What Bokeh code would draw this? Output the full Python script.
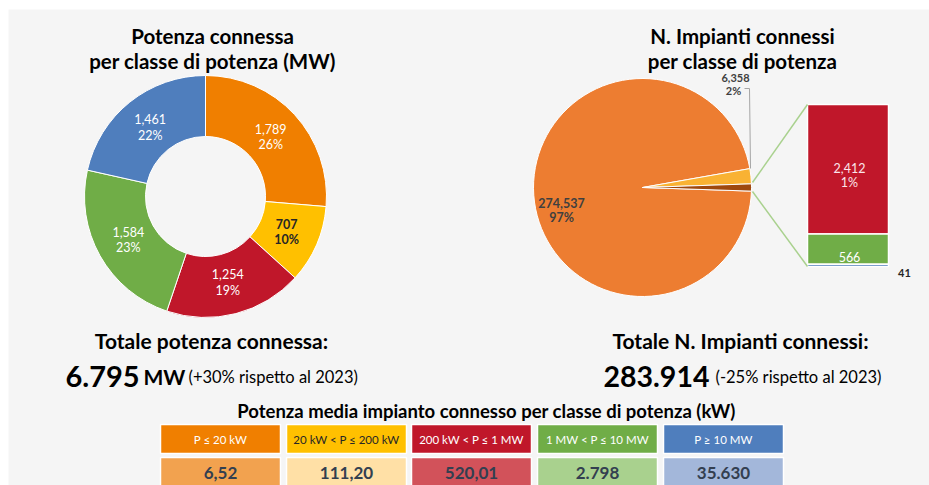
from bokeh.plotting import figure
from bokeh.models import Range1d, Label
from bokeh.embed import file_html
from bokeh.resources import INLINE
import math

# ---------------- data ----------------
classes = ["P ≤ 20 kW", "20 kW < P ≤ 200 kW", "200 kW < P ≤ 1 MW", "1 MW < P ≤ 10 MW", "P ≥ 10 MW"]
potenza_mw = [1789, 707, 1254, 1584, 1461]
potenza_pct = ["26%", "10%", "19%", "23%", "22%"]
impianti = [274537, 6358, 2412, 566, 41]
impianti_pct = ["97%", "2%", "1%", "", ""]
potenza_media = ["6,52", "111,20", "520,01", "2.798", "35.630"]
totale_potenza = "6.795"
totale_impianti = "283.914"
var_potenza = "(+30% rispetto al 2023)"
var_impianti = "(-25% rispetto al 2023)"

colors = ["#F07F00", "#FFC000", "#C0172A", "#70AD47", "#4F7EBD"]
light_colors = ["#F2A24F", "#FFE0A6", "#D2525A", "#A9D18E", "#A3B7DA"]
pie_colors = ["#ED7D31", "#F9B233", "#9E480E"]

FONT = "Lato"
W, H = 929, 485
ML, MT = 8, 9
PW, PH = W - ML, H - MT
BG = "#F5F5F5"

p = figure(width=W, height=H, x_range=Range1d(0, PW), y_range=Range1d(0, PH),
           output_backend="svg", toolbar_location=None,
           min_border_left=ML, min_border_top=MT, min_border_right=0, min_border_bottom=0,
           background_fill_color=BG, border_fill_color="white", outline_line_color=None)
p.axis.visible = False
p.grid.visible = False


def X(px):
    return px - ML


def Y(py):
    return H - py


def label(px, py, text, size, color="#000000", style="bold", align="center", baseline="alphabetic"):
    p.add_layout(Label(x=X(px), y=Y(py), text=text, text_font=FONT, text_font_size=f"{size}px",
                       text_color=color, text_font_style=style, text_align=align,
                       text_baseline=baseline))


# ---------------- titles ----------------
label(212, 35, "Potenza connessa", 20.5)
label(212, 60, "per classe di potenza (MW)", 20.5)
label(742, 35, "N. Impianti connessi", 20.5)
label(742, 60, "per classe di potenza", 20.5)

# ---------------- donut ----------------
cx, cy, ri, ro = X(205), Y(196), 60, 121
tot = sum(potenza_mw)
cum = 0
for v, pct, c, i in zip(potenza_mw, potenza_pct, colors, range(5)):
    a0 = math.pi / 2 - 2 * math.pi * cum / tot
    cum += v
    a1 = math.pi / 2 - 2 * math.pi * cum / tot
    p.annular_wedge(x=cx, y=cy, inner_radius=ri, outer_radius=ro, start_angle=a1, end_angle=a0,
                    fill_color=c, line_color="white", line_width=1)
    am = (a0 + a1) / 2
    rm = (ri + ro) / 2 - 2
    lx = cx + rm * math.cos(am)
    ly = cy + rm * math.sin(am)
    tc = "#262626" if i == 1 else "white"
    p.add_layout(Label(x=lx, y=ly + 8, text=f"{v:,}", text_font=FONT, text_font_size="12.5px",
                       text_color=tc, text_align="center", text_baseline="middle",
                       text_font_style="bold" if i == 1 else "normal"))
    p.add_layout(Label(x=lx, y=ly - 8, text=pct, text_font=FONT, text_font_size="12.5px",
                       text_color=tc, text_align="center", text_baseline="middle",
                       text_font_style="bold" if i == 1 else "normal"))

# ---------------- pie of pie ----------------
pcx, pcy, pr = X(642), Y(187), 109
ptot = sum(impianti)
main_vals = [impianti[0], impianti[1], sum(impianti[2:])]
half = math.pi * main_vals[2] / ptot
b0, b1 = -half, half
y1 = b1 + 2 * math.pi * main_vals[1] / ptot
p.wedge(x=pcx, y=pcy, radius=pr, start_angle=y1, end_angle=2 * math.pi - half,
        fill_color=pie_colors[0], line_color="white", line_width=1)
p.wedge(x=pcx, y=pcy, radius=pr, start_angle=b1, end_angle=y1,
        fill_color=pie_colors[1], line_color="white", line_width=1)
p.wedge(x=pcx, y=pcy, radius=pr, start_angle=b0, end_angle=b1,
        fill_color=pie_colors[2], line_color="white", line_width=1)

label(561, 202, f"{impianti[0]:,}", 12.5, "#3F3F3F", "bold")
label(561, 217, impianti_pct[0], 12.5, "#3F3F3F", "bold")
label(735, 77, f"{impianti[1]:,}", 11, "#3F3F3F", "bold")
label(733, 90, impianti_pct[1], 11, "#3F3F3F", "bold")
p.line(x=[X(744), X(749), X(750)], y=[Y(88), Y(88), Y(168)], line_color="#A6A6A6", line_width=1)

# secondary bar
bx0, bx1, btop, bbot = X(807), X(888), Y(104), Y(266)
other = impianti[2:]
osum = sum(other)
scale = (btop - bbot) / osum
bar_colors = [colors[2], colors[3], colors[4]]
top = btop
for v, c in zip(other, bar_colors):
    bottom = top - v * scale
    p.quad(left=bx0, right=bx1, top=top, bottom=bottom, fill_color=c, line_color="white", line_width=1.5)
    top = bottom

p.line(x=[X(752), bx0], y=[Y(182), btop], line_color="#A9D18E", line_width=1.5)
p.line(x=[X(752), bx0], y=[Y(191), bbot], line_color="#A9D18E", line_width=1.5)

label(849, 167, f"{impianti[2]:,}", 12.5, "#FBE5EA", "normal")
label(849, 182, impianti_pct[2], 12.5, "#FBE5EA", "normal")
label(849, 256, f"{impianti[3]:,}", 12.5, "white", "normal")
label(904, 272, f"{impianti[4]:,}", 11, "#262626", "bold")

# ---------------- totals ----------------
label(211, 340, "Totale potenza connessa:", 21)
label(65, 376, totale_potenza, 29, align="left")
label(143, 376, "MW", 21, align="left")
label(188, 376, var_potenza, 16.5, style="normal", align="left")

label(740, 340, "Totale N. Impianti connessi:", 21)
label(603, 376, totale_impianti, 28.5, align="left")
label(715, 376, var_impianti, 16.5, style="normal", align="left")

# ---------------- table ----------------
label(486, 410, "Potenza media impianto connesso per classe di potenza (kW)", 18.5)
lefts = [160, 286, 411, 537, 663]
bw = 120
for i, (cls, val) in enumerate(zip(classes, potenza_media)):
    l = X(lefts[i])
    p.quad(left=l, right=l + bw, top=Y(424), bottom=Y(453), fill_color=colors[i], line_color="white", line_width=1.5)
    p.quad(left=l, right=l + bw, top=Y(457), bottom=Y(487), fill_color=light_colors[i], line_color="white", line_width=1.5)
    tc = "#262626" if i == 1 else "white"
    p.add_layout(Label(x=l + bw / 2, y=Y(439), text=cls, text_font=FONT, text_font_size="11.5px",
                       text_color=tc, text_align="center", text_baseline="middle"))
    p.add_layout(Label(x=l + bw / 2, y=Y(472), text=val, text_font=FONT, text_font_size="17px",
                       text_color="#333F50", text_align="center", text_baseline="middle",
                       text_font_style="bold"))

open("out.html", "w").write(file_html(p, INLINE))
